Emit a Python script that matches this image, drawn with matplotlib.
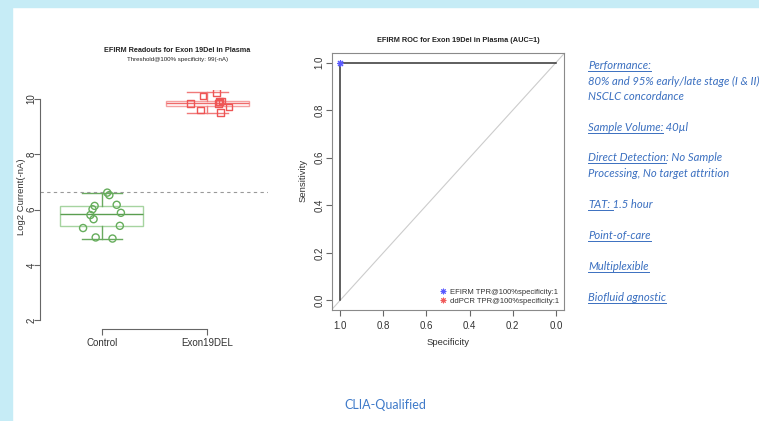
import matplotlib
matplotlib.use('Agg')
import matplotlib.pyplot as plt
from matplotlib.patches import Rectangle
from matplotlib.lines import Line2D
import numpy as np

plt.rcParams['font.family'] = ['Liberation Sans', 'DejaVu Sans']

# ---------------- data ----------------
groups = ['Control', 'Exon19DEL']
control_vals = [6.61, 6.52, 6.13, 6.01, 6.17, 5.88, 5.80, 5.65, 5.33, 5.41, 4.99, 4.95]
control_dx = [0.05, 0.07, -0.07, -0.09, 0.14, 0.18, -0.11, -0.08, -0.18, 0.17, -0.06, 0.10]
exon_vals = [10.23, 10.11, 9.84, 9.88, 9.93, 9.84, 9.70, 9.59, 9.50, 9.90]
exon_dx = [0.09, -0.04, -0.16, 0.12, 0.14, 0.11, 0.21, -0.06, 0.13, 0.12]
threshold = 6.62
y_ticks = [2, 4, 6, 8, 10]

roc_spec = [1.0, 1.0, 0.0]
roc_sens = [0.0, 1.0, 1.0]
roc_ticks = [1.0, 0.8, 0.6, 0.4, 0.2, 0.0]
legend_labels = ['EFIRM TPR@100%specificity:1', 'ddPCR TPR@100%specificity:1']

info_lines = [
    ("Performance:", "", 65),
    ("", "80% and 95% early/late stage (I & II)", 81),
    ("", "NSCLC concordance", 96),
    ("Sample Volume:", " 40\u00b5l", 127),
    ("Direct Detection", ": No Sample", 157),
    ("", "Processing, No target attrition", 173),
    ("TAT:", " 1.5 hour", 204),
    ("Point-of-care", "", 235),
    ("Multiplexible", "", 266),
    ("Biofluid agnostic", "", 297),
]

# ---------------- figure ----------------
W, H = 759, 421
fig = plt.figure(figsize=(W / 100, H / 100), dpi=100)
fig.patch.set_facecolor('white')

def fx(px):
    return px / W

def fy(py):
    return 1 - py / H

strip = '#c6ecf6'
fig.add_artist(Rectangle((0, 0), fx(12), 1, transform=fig.transFigure, color=strip, zorder=0))
fig.add_artist(Rectangle((0, fy(7)), 1, 7 / H, transform=fig.transFigure, color=strip, zorder=0))

axcol = '#666666'
txtcol = '#333333'

# ---------------- left: box plot ----------------
ax1 = fig.add_axes([fx(40), fy(329), 228 / W, 239 / H])

styles = [
    dict(box='#a6d4a0', med='#5a9e50', wh='#6aaa60', pt='#66ad5c'),
    dict(box='#f5a0a0', med='#ee6a6a', wh='#f07a7a', pt='#ee5555'),
]
bp = ax1.boxplot([control_vals, exon_vals], positions=[1, 2], widths=0.79, whis=(0, 100),
                 patch_artist=True, showfliers=False, capwidths=0.39)
for i, st in enumerate(styles):
    bp['boxes'][i].set(facecolor='none', edgecolor=st['box'], linewidth=1.0)
    bp['medians'][i].set(color=st['med'], linewidth=1.0)
    for w in bp['whiskers'][2 * i:2 * i + 2]:
        w.set(color=st['wh'], linewidth=1.0)
    for c in bp['caps'][2 * i:2 * i + 2]:
        c.set(color=st['wh'], linewidth=1.0)

ax1.scatter(1 + np.array(control_dx), control_vals, marker='o', facecolors='none',
            edgecolors=styles[0]['pt'], s=26, linewidths=1.0, zorder=3)
ax1.scatter(2 + np.array(exon_dx), exon_vals, marker='s', facecolors='none',
            edgecolors=styles[1]['pt'], s=22, linewidths=1.0, zorder=3)
ax1.axhline(threshold, ls=(0, (3, 3)), color='#999999', lw=0.8)

ax1.set_xlim(0.41, 2.58)
ax1.set_ylim(1.68, 10.32)
for s in ['top', 'right']:
    ax1.spines[s].set_visible(False)
ax1.spines['left'].set_bounds(2, 10)
ax1.spines['bottom'].set_bounds(1, 2)
for s in ['left', 'bottom']:
    ax1.spines[s].set_color(axcol)
    ax1.spines[s].set_linewidth(0.8)
ax1.set_yticks(y_ticks)
ax1.set_yticklabels([str(v) for v in y_ticks], rotation=90, va='center')
ax1.set_xticks([1, 2])
ax1.set_xticklabels(groups)
ax1.tick_params(direction='out', length=4, width=0.8, color=axcol, labelsize=7,
                labelcolor=txtcol)
ax1.tick_params(axis='y', pad=-1.5)
ax1.tick_params(axis='x', pad=2.5)

fig.text(fx(22), fy(197), 'Log2 Current(-nA)', rotation=90, ha='center', va='center',
         fontsize=6.8, color=txtcol)
fig.text(fx(177), fy(50), 'EFIRM Readouts for Exon 19Del in Plasma', ha='center', va='center',
         fontsize=5.2, fontweight='bold', color='#222222')
fig.text(fx(178), fy(59), 'Threshold@100% specificity: 99(-nA)', ha='center', va='center',
         fontsize=4.4, color='#222222')

# ---------------- middle: ROC ----------------
ax2 = fig.add_axes([fx(332), fy(310), 232 / W, 257 / H])
ax2.set_xlim(1.037, -0.037)
ax2.set_ylim(-0.04, 1.04)
for s in ax2.spines.values():
    s.set_color('#8a8a8a')
    s.set_linewidth(0.8)
ax2.plot([1.037, -0.037], [1 - 1.037, 1 + 0.037], color='#cccccc', lw=0.8)
ax2.plot(roc_spec, roc_sens, color='#333333', lw=1.1)
ast = (8, 2, 0)
ax2.plot([1.0], [1.0], marker=ast, color='#5a5aff', ms=5, mew=0.8, ls='none')
ax2.set_xticks(roc_ticks)
ax2.set_xticklabels(['%.1f' % v for v in roc_ticks])
ax2.set_yticks(roc_ticks[::-1])
ax2.set_yticklabels(['%.1f' % v for v in roc_ticks[::-1]], rotation=90, va='center')
ax2.tick_params(direction='out', length=4, width=0.8, color=axcol, labelsize=7,
                labelcolor=txtcol, pad=1.5)
ax2.tick_params(axis='x', pad=4)
ax2.set_xlabel('Specificity', fontsize=6.8, color=txtcol, labelpad=5)
fig.text(fx(303), fy(180), 'Sensitivity', rotation=90, ha='center', va='center',
         fontsize=6.8, color=txtcol)
fig.text(fx(458), fy(41), 'EFIRM ROC for Exon 19Del in Plasma (AUC=1)', ha='center', va='center',
         fontsize=5.3, fontweight='bold', color='#222222')
handles = [Line2D([], [], marker=ast, color='#5a5aff', ls='none', ms=4, mew=0.7),
           Line2D([], [], marker=ast, color='#f05a5a', ls='none', ms=4, mew=0.7)]
ax2.legend(handles, legend_labels, loc='lower right', frameon=False, fontsize=5.5,
           handlelength=0.8, handletextpad=0.4, labelspacing=0.15, borderaxespad=0.3,
           labelcolor=txtcol)

# ---------------- right: text panel ----------------
blue = '#3a6fc0'
renderer = fig.canvas.get_renderer()
tkw = dict(fontsize=8.1, style='italic', color=blue, family=['Lato', 'DejaVu Sans'], va='baseline')
for ul, rest, yc in info_lines:
    xpix = 588
    base = yc + 4
    if ul:
        t = fig.text(fx(xpix), fy(base), ul, **tkw)
        bb = t.get_window_extent(renderer)
        x1 = bb.x1 + (3 if rest.startswith(' 1') else 0)
        fig.add_artist(Line2D([bb.x0 / W, x1 / W], [fy(base + 1.8)] * 2,
                              transform=fig.transFigure, color=blue, lw=0.7))
        xpix = bb.x1
    if rest:
        fig.text(xpix / W, fy(base), rest, **tkw)

fig.text(fx(385), fy(405), 'CLIA-Qualified', ha='center', va='center', fontsize=9,
         color='#3f7ac9', family=['Lato', 'DejaVu Sans'])

fig.savefig('out.png', dpi=100, facecolor='white')
